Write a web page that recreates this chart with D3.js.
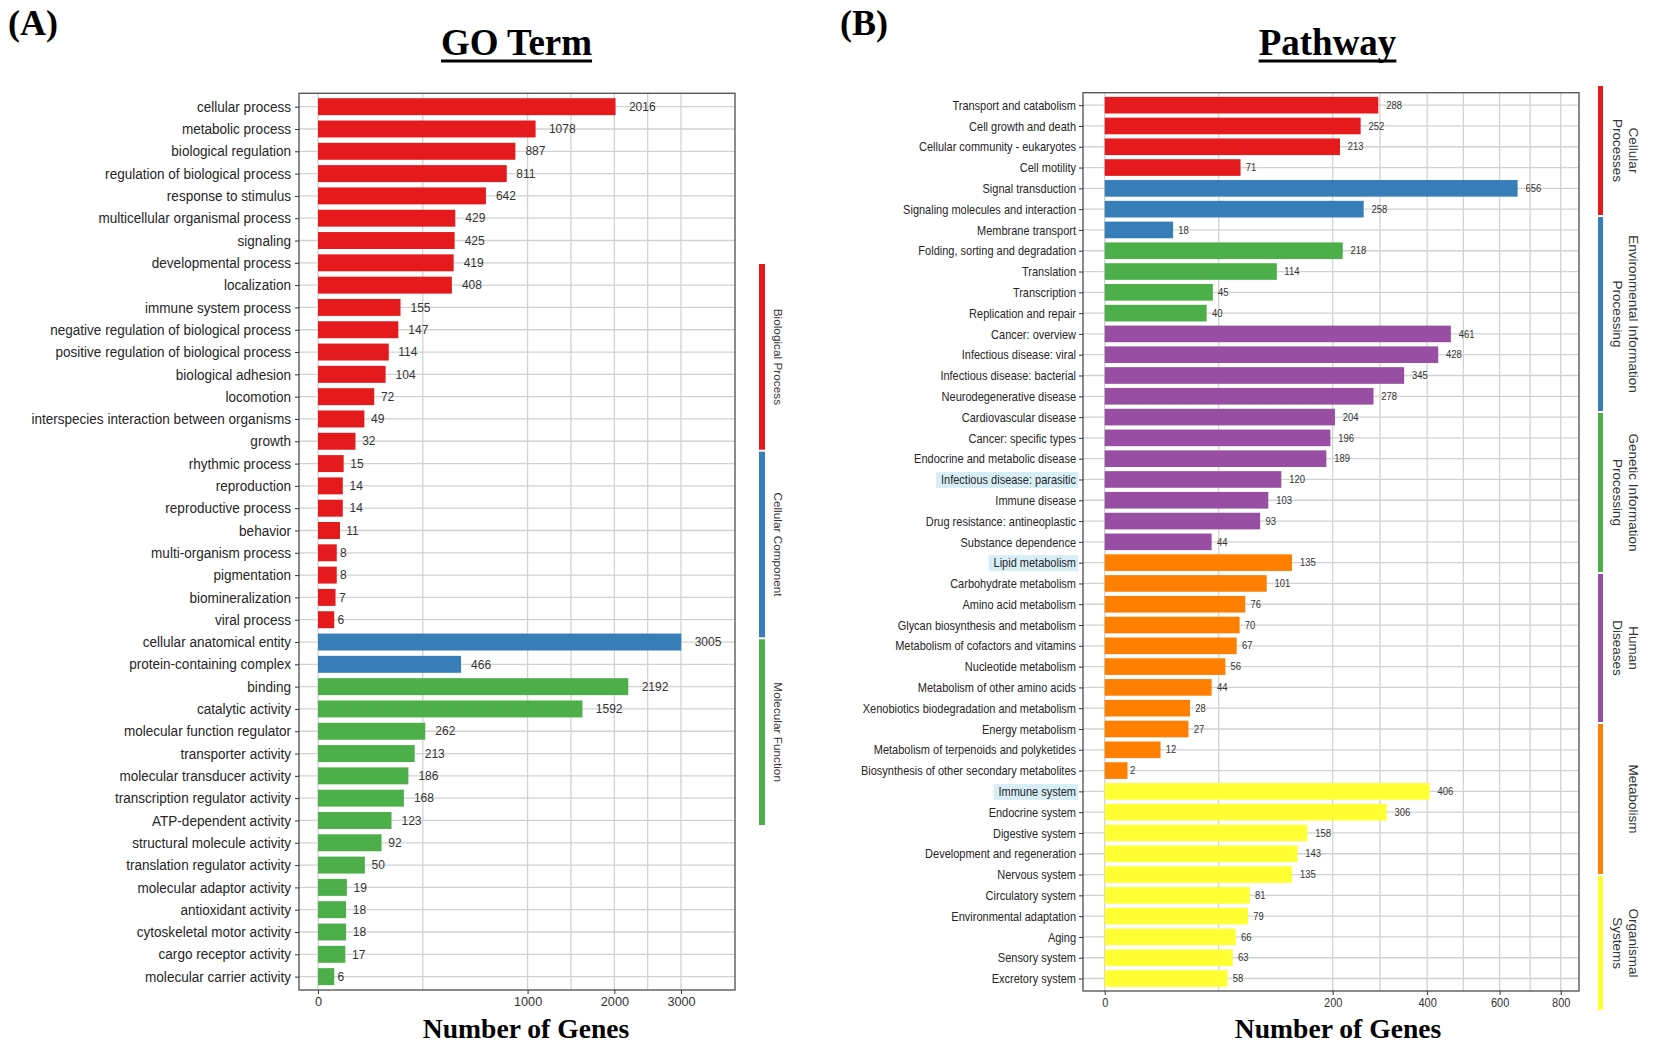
<!DOCTYPE html>
<html>
<head>
<meta charset="utf-8">
<script src="https://cdn.jsdelivr.net/npm/d3@7"></script>
<style>
  body { margin: 0; background: #fff; }
  svg { display: block; font-family: "Liberation Sans", Arial, sans-serif; }
</style>
</head>
<body>
<svg id="chart" width="1654" height="1048"></svg>
<script>
// ---- data: GO terms (panel A) ----
const goTerms = [
  "cellular process", "metabolic process", "biological regulation", "regulation of biological process",
  "response to stimulus", "multicellular organismal process", "signaling", "developmental process",
  "localization", "immune system process", "negative regulation of biological process",
  "positive regulation of biological process", "biological adhesion", "locomotion",
  "interspecies interaction between organisms", "growth", "rhythmic process", "reproduction",
  "reproductive process", "behavior", "multi-organism process", "pigmentation", "biomineralization",
  "viral process", "cellular anatomical entity", "protein-containing complex", "binding",
  "catalytic activity", "molecular function regulator", "transporter activity",
  "molecular transducer activity", "transcription regulator activity", "ATP-dependent activity",
  "structural molecule activity", "translation regulator activity", "molecular adaptor activity",
  "antioxidant activity", "cytoskeletal motor activity", "cargo receptor activity",
  "molecular carrier activity"
];
const goCounts = [2016, 1078, 887, 811, 642, 429, 425, 419, 408, 155, 147, 114, 104, 72, 49, 32, 15, 14, 14, 11,
  8, 8, 7, 6, 3005, 466, 2192, 1592, 262, 213, 186, 168, 123, 92, 50, 19, 18, 18, 17, 6];
const goGroups = [["Biological Process"], ["Cellular Component"], ["Molecular Function"]];
const goGroupSizes = [24, 2, 14];
const goTicks = [0, 1000, 2000, 3000];

// ---- data: KEGG pathways (panel B) ----
const pathTerms = [
  "Transport and catabolism", "Cell growth and death", "Cellular community - eukaryotes", "Cell motility",
  "Signal transduction", "Signaling molecules and interaction", "Membrane transport",
  "Folding, sorting and degradation", "Translation", "Transcription", "Replication and repair",
  "Cancer: overview", "Infectious disease: viral", "Infectious disease: bacterial", "Neurodegenerative disease",
  "Cardiovascular disease", "Cancer: specific types", "Endocrine and metabolic disease",
  "Infectious disease: parasitic", "Immune disease", "Drug resistance: antineoplastic", "Substance dependence",
  "Lipid metabolism", "Carbohydrate metabolism", "Amino acid metabolism", "Glycan biosynthesis and metabolism",
  "Metabolism of cofactors and vitamins", "Nucleotide metabolism", "Metabolism of other amino acids",
  "Xenobiotics biodegradation and metabolism", "Energy metabolism", "Metabolism of terpenoids and polyketides",
  "Biosynthesis of other secondary metabolites", "Immune system", "Endocrine system", "Digestive system",
  "Development and regeneration", "Nervous system", "Circulatory system", "Environmental adaptation",
  "Aging", "Sensory system", "Excretory system"
];
const pathCounts = [288, 252, 213, 71, 656, 258, 18, 218, 114, 45, 40, 461, 428, 345, 278, 204, 196, 189, 120,
  103, 93, 44, 135, 101, 76, 70, 67, 56, 44, 28, 27, 12, 2, 406, 306, 158, 143, 135, 81, 79, 66, 63, 58];
const pathGroups = [["Cellular", "Processes"], ["Environmental Information", "Processing"],
  ["Genetic Information", "Processing"], ["Human", "Diseases"], ["Metabolism"], ["Organismal", "Systems"]];
const pathGroupSizes = [4, 3, 4, 11, 11, 10];
const pathTicks = [0, 200, 400, 600, 800];
const pathHighlight = ["Infectious disease: parasitic", "Lipid metabolism", "Immune system"];

const palette = ["#E41A1C", "#377EB8", "#4DAF4A", "#984EA3", "#FF7F00", "#FFFF33"];

const svg = d3.select("#chart");

function groupOf(sizes) {
  const out = [];
  sizes.forEach((n, i) => { for (let j = 0; j < n; j++) out.push(i); });
  return out;
}

function drawPanel(o) {
  const box = o.box;
  const x = d3.scaleSqrt().domain(o.domain).range(o.range);
  const y = d3.scalePoint().domain(o.terms).range([box.top, box.bottom]).padding(0.6);
  const grp = groupOf(o.sizes);
  const g = svg.append("g");

  // grid: major at ticks, minor halfway in sqrt space
  const minors = d3.pairs(o.ticks).map(([a, b]) => Math.pow((Math.sqrt(a) + Math.sqrt(b)) / 2, 2));
  g.append("g").selectAll("line").data(o.ticks.concat(minors)).join("line")
    .attr("x1", d => x(d)).attr("x2", d => x(d))
    .attr("y1", box.top).attr("y2", box.bottom)
    .attr("stroke", "#d2d2d2").attr("stroke-width", 1.3);
  g.append("g").selectAll("line").data(o.terms).join("line")
    .attr("x1", box.left).attr("x2", box.right)
    .attr("y1", d => y(d)).attr("y2", d => y(d))
    .attr("stroke", "#d2d2d2").attr("stroke-width", 1.3);

  // bars
  const bh = y.step() * o.bandFrac;
  g.append("g").selectAll("rect").data(o.terms).join("rect")
    .attr("x", x(0)).attr("y", d => y(d) - bh / 2)
    .attr("width", (d, i) => x(o.counts[i]) - x(0)).attr("height", bh)
    .attr("fill", (d, i) => palette[grp[i]]);

  // value labels (hjust = -0.5)
  const vl = g.append("g").selectAll("g").data(o.terms).join("g")
    .attr("transform", (d, i) => `translate(${x(o.counts[i])},${y(d)}) scale(${o.val.sx},1)`);
  vl.append("text")
    .attr("dy", "0.35em").attr("font-size", o.val.size).attr("fill", "#333")
    .text((d, i) => o.counts[i])
    .attr("x", function () { return this.getComputedTextLength() * 0.5; });

  // panel border
  g.append("rect").attr("x", box.left).attr("y", box.top)
    .attr("width", box.right - box.left).attr("height", box.bottom - box.top)
    .attr("fill", "none").attr("stroke", "#5a5a5a").attr("stroke-width", 1.4);

  // y axis
  const ya = g.append("g").attr("transform", `translate(${box.left},0)`)
    .call(d3.axisLeft(y).tickSize(4).tickPadding(o.lab.pad));
  ya.select(".domain").remove();
  ya.selectAll(".tick line").attr("stroke", "#333");
  ya.selectAll(".tick text")
    .attr("font-size", o.lab.size).attr("fill", "#262626")
    .attr("font-family", "Liberation Sans, Arial, sans-serif")
    .attr("x", -(4 + o.lab.pad) / o.lab.sx)
    .attr("transform", `scale(${o.lab.sx},1)`);
  if (o.highlight) {
    ya.selectAll(".tick").filter(d => o.highlight.includes(d)).each(function () {
      const t = d3.select(this).select("text");
      const bb = t.node().getBBox();
      d3.select(this).insert("rect", "text")
        .attr("x", bb.x * o.lab.sx - 5).attr("width", bb.width * o.lab.sx + 7)
        .attr("y", -8).attr("height", 16).attr("fill", "#d8eef7");
    });
  }

  // x axis
  const xa = g.append("g").attr("transform", `translate(0,${box.bottom})`)
    .call(d3.axisBottom(x).tickValues(o.ticks).tickSize(4).tickPadding(3).tickFormat(d3.format("d")));
  xa.select(".domain").remove();
  xa.selectAll(".tick line").attr("stroke", "#333");
  xa.selectAll(".tick text")
    .attr("font-size", o.tick.size).attr("fill", "#333")
    .attr("font-family", "Liberation Sans, Arial, sans-serif")
    .attr("transform", `scale(${o.tick.sx},1)`);

  // axis title
  svg.append("text").attr("x", o.xTitleX).attr("y", 1038)
    .attr("text-anchor", "middle").attr("font-family", "Liberation Serif, Times New Roman, serif")
    .attr("font-weight", "bold").attr("font-size", 27.6).attr("fill", "#000")
    .text("Number of Genes");

  // panel title with underline
  const tt = svg.append("text").attr("x", o.titleX).attr("y", 55)
    .attr("text-anchor", "middle").attr("font-family", "Liberation Serif, Times New Roman, serif")
    .attr("font-weight", "bold").attr("font-size", 37).attr("fill", "#000")
    .text(o.title);
  const tw = tt.node().getComputedTextLength();
  svg.append("rect").attr("x", o.titleX - tw / 2).attr("y", 59.5)
    .attr("width", tw).attr("height", 3).attr("fill", "#000");

  // panel letter
  svg.append("text").attr("x", o.letterX).attr("y", 35)
    .attr("font-family", "Liberation Serif, Times New Roman, serif")
    .attr("font-weight", "bold").attr("font-size", 36).attr("fill", "#000")
    .text(o.letter);

  // category strip
  const s = o.strip;
  o.groups.forEach((lines, i) => {
    const y0 = s.bounds[i], y1 = s.bounds[i + 1];
    svg.append("rect").attr("x", s.x).attr("y", y0 + 1).attr("width", s.w).attr("height", y1 - y0 - 2)
      .attr("fill", palette[i]);
    lines.forEach((line, j) => {
      svg.append("text")
        .attr("transform", `translate(${s.lineX[j]},${(y0 + y1) / 2}) rotate(90)`)
        .attr("text-anchor", "middle").attr("dominant-baseline", "central")
        .attr("font-size", s.size).attr("fill", "#333")
        .text(line);
    });
  });
}

drawPanel({
  terms: goTerms, counts: goCounts, groups: goGroups, sizes: goGroupSizes, ticks: goTicks,
  box: { left: 299, right: 735, top: 93.3, bottom: 990 },
  domain: [0, 3000], range: [318, 681], bandFrac: 0.76,
  lab: { size: 14.5, sx: 0.935, pad: 4 },
  val: { size: 12, sx: 1 },
  tick: { size: 12.7, sx: 1 },
  xTitleX: 526, titleX: 516.5, title: "GO Term", letterX: 8, letter: "(A)",
  strip: { x: 759, w: 6, bounds: [263, 450.7, 638.3, 826], lineX: [778], size: 11.8 }
});

drawPanel({
  terms: pathTerms, counts: pathCounts, groups: pathGroups, sizes: pathGroupSizes, ticks: pathTicks,
  box: { left: 1083, right: 1579, top: 92.7, bottom: 991 },
  domain: [0, 800], range: [1104.7, 1560.7], bandFrac: 0.8,
  lab: { size: 13, sx: 0.846, pad: 3 },
  val: { size: 10.5, sx: 0.9 },
  tick: { size: 12.5, sx: 0.88 },
  highlight: pathHighlight,
  xTitleX: 1338, titleX: 1327.5, title: "Pathway", letterX: 840, letter: "(B)",
  strip: { x: 1598, w: 5, bounds: [85, 216, 412, 573, 723, 875, 1011], lineX: [1633.5, 1617], size: 13.5 }
});
</script>
</body>
</html>
